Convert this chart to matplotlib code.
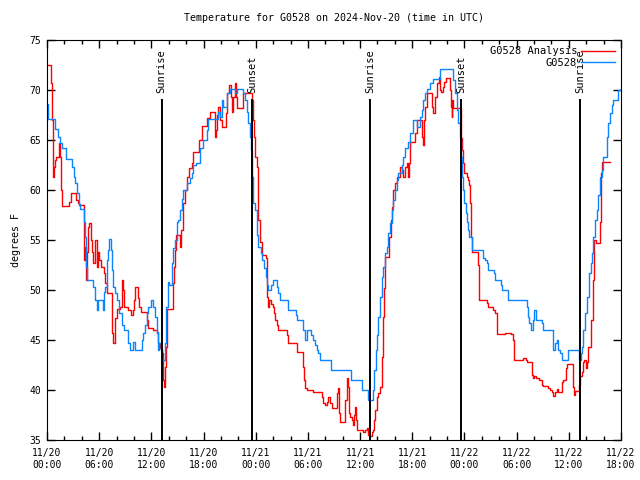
from matplotlib import pyplot as plt
from matplotlib.ticker import MultipleLocator

# hours since 2024-11-20 00:00 UTC
obs_hours = [0.0, 0.1, 0.92, 1.3, 1.5, 1.7, 2.2, 2.9, 3.1, 3.2, 3.4, 3.7, 3.8, 4.25, 4.37, 4.5, 4.63,
             5.3, 5.5, 5.7, 5.85, 6.4, 6.55, 6.67, 6.86, 7.0, 7.16, 7.32, 7.44, 7.62, 7.8, 8.0, 8.28,
             8.6, 8.85, 9.35, 9.54, 9.9, 10.1, 10.9, 11.04, 11.27, 11.46, 11.6, 11.96, 12.19, 12.42,
             12.6, 12.76, 12.9, 13.07, 13.2, 13.57, 13.68, 13.88, 14.06, 14.34, 14.52, 14.72, 14.9,
             15.1, 15.3, 15.5, 15.67, 16.06, 16.44, 16.64, 16.82, 17.13, 17.6, 17.97, 18.36, 18.55,
             19.7, 19.9, 20.09, 20.27, 20.66, 21.04, 21.6, 21.8, 22.57, 22.77, 22.96, 23.15, 23.34,
             23.46, 23.57, 23.63, 23.72, 23.92, 24.11, 24.3, 24.57, 24.76, 24.95, 25.15, 25.33, 25.45,
             25.76, 26.02, 26.4, 26.6, 26.8, 27.75, 28.6, 28.7, 29.4, 29.67, 29.86, 30.36, 30.62,
             30.82, 31.0, 31.2, 31.4, 32.6, 34.92, 36.25, 36.94, 37.45, 37.6, 37.8, 37.9, 38.1, 38.29,
             38.48, 38.67, 38.86, 39.06, 39.24, 39.44, 39.63, 39.82, 40.01, 40.2, 40.4, 40.78, 40.97,
             41.16, 41.54, 41.74, 42.12, 42.5, 42.89, 43.08, 43.27, 43.46, 43.66, 44.04, 44.35, 45.19,
             46.72, 46.91, 47.11, 47.29, 47.49, 47.6, 47.68, 47.87, 47.98, 48.14, 48.26, 48.44, 48.56,
             48.83, 50.17, 50.36, 50.56, 50.74, 51.4, 51.5, 52.17, 52.28, 52.97, 53.04, 55.23, 55.35,
             55.46, 55.62, 55.85, 56.03, 56.23, 56.88, 57.07, 58.15, 58.22, 58.41, 58.61, 58.79, 58.99,
             59.18, 59.94, 61.2, 61.37, 61.48, 61.67, 61.86, 62.06, 62.32, 62.52, 62.63, 62.82, 63.01,
             63.21, 63.4, 63.58, 63.78, 63.97, 64.36, 64.54, 64.73, 64.93, 65.11, 65.69, 66.0]
obs_temps = [68.6, 67.1, 66.1, 65.3, 64.7, 64.2, 63.1, 62.3, 61.3, 60.7, 59.7, 58.6, 58.1, 56.8, 55.3, 52.3, 51.0,
             50.3, 49.0, 48.0, 49.0, 48.0, 49.8, 50.3, 53.0, 54.0, 55.1, 54.0, 52.0, 50.3, 49.7, 49.0, 47.7,
             46.5, 46.0, 44.7, 44.0, 44.8, 44.0, 45.0, 45.7, 46.5, 47.7, 48.3, 49.0, 48.3, 47.3,
             45.8, 44.0, 44.7, 44.0, 43.0, 44.7, 48.3, 50.8, 50.5, 52.7, 54.2, 55.0, 56.8,
             57.0, 58.0, 59.1, 60.0, 60.7, 61.2, 61.7, 62.5, 62.7, 64.2, 65.0, 66.0, 67.1,
             67.8, 67.3, 69.0, 68.3, 69.7, 70.1, 69.7, 70.1, 69.7, 69.0, 67.8, 66.7, 65.3,
             64.0, 61.3, 59.3, 58.7, 58.0, 55.5, 54.3, 53.7, 53.0, 52.2, 51.3, 50.5, 50.0,
             50.5, 51.0, 50.3, 49.7, 49.0, 48.0, 47.5, 47.0, 46.0, 45.0, 46.0, 45.5, 45.0,
             44.5, 44.0, 43.7, 43.0, 42.0, 41.0, 40.0, 39.0, 40.0, 42.0, 44.0, 45.5, 47.3, 49.3,
             51.3, 52.3, 53.7, 54.3, 55.7, 56.7, 58.0, 59.0, 60.0, 61.0, 61.7, 62.5, 63.3,
             64.2, 64.8, 65.7, 67.0, 66.3, 67.3, 68.0, 69.0, 69.7, 70.1, 70.7, 71.1, 72.1,
             71.0, 69.7, 68.0, 66.7, 65.3, 63.3, 61.3, 60.0, 58.7, 57.7, 56.8, 56.0, 55.3,
             54.0, 53.2, 53.0, 52.7, 52.0, 51.7, 51.0, 50.5, 50.0, 49.7, 49.0, 48.3, 47.3,
             46.7, 46.0, 47.0, 48.0, 47.0, 46.7, 46.0, 45.5, 44.0, 44.7, 45.0, 44.0, 43.7,
             43.0, 44.0, 43.0, 43.7, 44.3, 46.0, 47.7, 49.3, 51.7, 52.7, 53.7, 55.3, 57.0,
             58.0, 59.5, 61.3, 62.0, 63.3, 65.3, 66.7, 67.7, 68.5, 69.0, 70.0, 70.1]

ana_hours = [0.0, 0.46, 0.57, 0.66, 0.72, 0.8, 0.92, 1.03, 1.41, 1.5, 1.58, 1.69, 2.56, 2.73, 3.33, 3.6, 3.71,
             4.25, 4.37, 4.45, 4.56, 4.68, 4.86, 5.06, 5.21, 5.32, 5.52, 5.71, 5.9, 6.01, 6.17, 6.55,
             6.67, 6.86, 7.44, 7.5, 7.59, 7.82, 8.01, 8.39, 8.59, 8.77, 8.89, 9.35, 9.66, 9.93, 10.04,
             10.12, 10.5, 10.61, 10.77, 11.46, 11.65, 12.22, 12.61, 12.8, 12.99, 13.19, 13.3, 13.37,
             13.49, 13.57, 13.68, 13.76, 14.52, 14.64, 14.72, 14.8, 15.29, 15.4, 15.6, 15.67, 15.87,
             16.06, 16.36, 16.64, 16.82, 17.51, 17.79, 18.36, 18.74, 19.32, 19.43, 19.58, 19.7, 19.89,
             20.09, 20.58, 20.73, 20.96, 21.12, 21.3, 21.42, 21.62, 21.73, 21.88, 22.57, 23.46, 23.54,
             23.65, 23.8, 23.92, 24.11, 24.3, 24.49, 24.69, 25.18, 25.26, 25.33, 25.45, 25.56, 25.72,
             25.95, 26.14, 26.22, 26.41, 26.6, 27.56, 27.75, 28.71, 29.4, 29.55, 29.67, 29.86, 30.62,
             31.59, 31.78, 31.97, 32.16, 32.35, 32.54, 32.74, 33.38, 33.5, 33.61, 33.69, 34.3, 34.46,
             34.58, 34.73, 34.84, 35.03, 35.15, 35.3, 35.42, 35.53, 35.68, 36.37, 36.56, 36.76, 36.87,
             37.14, 37.33, 37.45, 37.6, 37.72, 37.91, 38.1, 38.29, 38.48, 38.6, 38.69, 38.75, 38.86,
             39.36, 39.55, 39.63, 39.75, 40.01, 40.2, 40.59, 40.78, 40.97, 41.16, 41.36, 41.54, 41.66,
             41.74, 42.31, 42.58, 43.08, 43.23, 43.38, 43.5, 43.66, 44.23, 44.35, 44.61, 44.81, 45.11,
             45.19, 45.3, 45.5, 45.65, 45.88, 46.34, 46.46, 46.54, 46.6, 46.72, 47.57, 47.68, 47.8,
             47.95, 48.26, 48.41, 48.53, 48.64, 48.72, 48.83, 49.6, 49.68, 49.71, 50.63, 50.74, 51.32,
             51.5, 51.71, 51.78, 52.66, 53.35, 53.55, 53.7, 54.77, 55.08, 55.23, 55.74, 55.93, 56.04,
             56.23, 56.54, 56.88, 57.07, 57.64, 57.84, 58.03, 58.22, 58.41, 58.61, 58.79, 59.18, 59.37,
             59.68, 59.83, 60.45, 60.6, 60.72, 61.14, 61.3, 61.49, 61.67, 61.79, 61.94, 62.06, 62.25,
             62.56, 62.75, 62.82, 62.9, 63.13, 63.58, 63.66, 63.73, 63.78, 64.75]
ana_temps = [72.5, 70.7, 67.0, 63.0, 61.3, 62.3, 63.0, 63.3, 64.7, 63.3, 60.0, 58.4, 58.8, 59.7, 59.0, 58.7, 58.5,
             53.0, 54.3, 51.0, 53.8, 56.3, 56.7, 55.0, 53.8, 52.7, 55.0, 52.3, 53.8, 53.0, 52.3, 51.7,
             50.7, 49.7, 47.0, 45.7, 44.7, 47.2, 48.1, 48.3, 51.0, 50.0, 48.3, 48.0, 47.5, 48.0, 49.0,
             50.3, 49.2, 48.3, 47.8, 47.0, 46.2, 46.0, 45.7, 44.7, 44.2, 43.7, 42.3, 41.0,
             40.3, 42.3, 44.3, 48.1, 50.7, 52.3, 54.0, 55.5, 54.3, 56.0, 58.3, 58.7, 60.0,
             61.3, 62.2, 62.7, 63.8, 65.0, 66.4, 67.2, 67.8, 65.3, 66.0, 67.5, 68.3, 67.0,
             66.3, 67.7, 69.7, 70.5, 69.3, 67.8, 69.3, 70.7, 69.3, 68.2, 69.7, 69.7, 69.0,
             67.0, 65.3, 63.3, 62.3, 57.0, 54.8, 53.5, 53.2, 51.7, 49.3, 48.3, 49.0, 48.6,
             48.3, 47.7, 47.0, 46.5, 46.0, 45.5, 44.7, 43.8, 42.3, 41.0, 40.2, 40.0, 39.8,
             39.3, 38.7, 38.5, 38.8, 39.3, 38.7, 38.2, 39.7, 40.2, 37.7, 36.8, 39.0, 41.2,
             40.3, 37.7, 37.3, 37.0, 36.5, 37.5, 38.3, 37.0, 36.0, 35.8, 36.0, 36.2, 35.5,
             35.4, 35.8, 36.0, 37.0, 38.0, 39.3, 39.7, 40.3, 43.3, 45.0, 47.3, 50.2, 53.3,
             55.3, 57.0, 58.3, 60.0, 60.7, 61.3, 62.3, 62.0, 61.3, 62.3, 62.7, 61.3, 62.7,
             64.8, 65.7, 67.0, 65.3, 64.5, 67.0, 68.3, 69.7, 68.3, 67.7, 69.3, 70.7, 71.3,
             70.0, 69.8, 70.3, 70.8, 71.2, 70.0, 68.3, 67.3, 69.0, 68.2, 65.2, 64.0, 62.7,
             61.7, 61.3, 61.0, 60.5, 58.7, 55.3, 53.8, 52.5, 50.2, 49.0, 48.7, 48.3, 48.0,
             47.7, 47.0, 45.6, 45.7, 45.6, 45.0, 43.0, 43.2, 43.0, 42.8, 41.5, 41.2, 41.4,
             41.2, 41.0, 40.5, 40.4, 40.2, 40.0, 39.8, 39.4, 39.8, 40.1, 39.8, 40.8, 41.0,
             42.2, 42.6, 40.3, 39.5, 39.9, 40.5, 41.4, 41.8, 42.8, 43.0, 42.2, 42.8, 44.3,
             47.0, 47.3, 51.0, 55.0, 54.7, 56.8, 59.7, 61.7, 62.8, 62.8]

sun_hours = [13.19, 23.57, 37.18, 47.64, 61.32]
sun_labels = ['Sunrise', 'Sunset', 'Sunrise', 'Sunset', 'Sunrise']

tick_labels = ['11/20\n00:00', '11/20\n06:00', '11/20\n12:00', '11/20\n18:00',
               '11/21\n00:00', '11/21\n06:00', '11/21\n12:00', '11/21\n18:00',
               '11/22\n00:00', '11/22\n06:00', '11/22\n12:00', '11/22\n18:00']

plt.rcParams['font.family'] = 'DejaVu Sans Mono'
plt.rcParams['font.size'] = 7

fig = plt.figure(figsize=(6.4, 4.8), dpi=100)
ax = fig.add_axes([47 / 640, 40 / 480, 574 / 640, 400 / 480])

ax.step(ana_hours, ana_temps, where='post', color='#ff0000', lw=1.0, label='G0528 Analysis')
ax.step(obs_hours, obs_temps, where='post', color='#0a84ff', lw=1.0, label='G0528')

for h, lab in zip(sun_hours, sun_labels):
    ax.plot([h, h], [35, 69], color='black', lw=1.4)
    ax.text(h, 69.7, lab, rotation=90, ha='center', va='bottom', fontsize=7.5)

ax.set_xlim(0, 66)
ax.set_ylim(35, 75)
ax.set_xticks(range(0, 67, 6))
ax.set_xticklabels(tick_labels)
ax.xaxis.set_minor_locator(MultipleLocator(2))
ax.set_yticks(range(35, 76, 5))
ax.tick_params(which='both', direction='in', top=True, right=True, color='black', width=1)
ax.tick_params(which='major', length=6, pad=4)
ax.tick_params(which='minor', length=3)
ax.tick_params(axis='x', which='major', pad=6)

ax.set_title('Temperature for G0528 on 2024-Nov-20 (time in UTC)', fontsize=7.2, pad=14)
ax.set_ylabel('degrees F', fontsize=7.2, labelpad=6)

ax.legend(loc='upper right', frameon=False, markerfirst=False, handlelength=3.2,
          handletextpad=0.4, labelspacing=0.15, borderaxespad=0.2, fontsize=7.5)

fig.savefig('out.png', dpi=100)
